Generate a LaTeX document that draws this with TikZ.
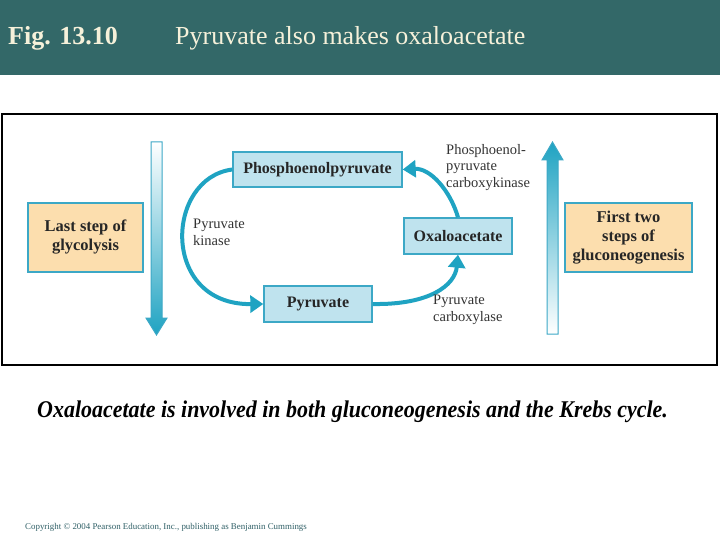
\documentclass[tikz,border=0pt]{standalone}
\usepackage{fontspec}
\setmainfont{Liberation Serif}
\usetikzlibrary{arrows.meta}
\definecolor{headbg}{HTML}{336868}
\definecolor{headtxt}{HTML}{F6F1DA}
\definecolor{boxfill}{HTML}{BFE3EE}
\definecolor{boxline}{HTML}{3CA8C6}
\definecolor{arcol}{HTML}{1FA3C2}
\definecolor{orfill}{HTML}{FCDEAE}
\definecolor{labtxt}{HTML}{333333}
\definecolor{copytxt}{HTML}{2F5F66}
\tikzset{
  molbox/.style={draw=boxline, fill=boxfill, line width=1.4pt, font=\fontsize{16}{18}\selectfont\bfseries, text=black!85, inner sep=0pt},
  stepbox/.style={draw=boxline, fill=orfill, line width=1.4pt, font=\fontsize{16.5}{19}\selectfont\bfseries, text=black!85, align=center, inner sep=0pt},
  enz/.style={font=\fontsize{14.5}{16.5}\selectfont, text=labtxt, align=left, anchor=north west, inner sep=0pt},
  arc/.style={draw=arcol, line width=4pt, -{Triangle[length=13pt,width=17pt]}},
}
\begin{document}
\begin{tikzpicture}[x=1pt,y=-1pt]
\useasboundingbox (0,0) rectangle (720,540);
% header
\fill[headbg] (0,0) rectangle (720,75);
\node[anchor=west, text=headtxt, font=\fontsize{26}{28}\selectfont\bfseries, inner sep=0pt] (fig) at (8,38) {Fig. 13.10};
\node[anchor=west, text=headtxt, font=\fontsize{26}{28}\selectfont, inner sep=0pt] (title) at (175,38) {Pyruvate also makes oxaloacetate};
% figure frame
\draw[line width=1.6pt, black] (2,114) rectangle (717,365);
% orange boxes
\node[stepbox, minimum width=115pt, minimum height=69pt] (last) at (85.5,237.5) {Last step of\\glycolysis};
\node[stepbox, minimum width=127pt, minimum height=69pt] (first) at (628.5,237.5) {First two\\steps of\\gluconeogenesis};
% gradient arrows
\path[draw=boxline, line width=1pt, top color=white, bottom color=arcol]
  (151,142) -- (162,142) -- (162,318) -- (167,318) -- (156.5,335) -- (146,318) -- (151,318) -- cycle;
\path[draw=boxline, line width=1pt, top color=arcol, bottom color=white]
  (547,334) -- (558,334) -- (558,160) -- (563,160) -- (552.5,142) -- (542,160) -- (547,160) -- cycle;
% molecule boxes
\node[molbox, minimum width=169pt, minimum height=35pt] (pep) at (317.5,169.5) {Phosphoenolpyruvate};
\node[molbox, minimum width=108pt, minimum height=36pt] (pyr) at (318,304) {Pyruvate};
\node[molbox, minimum width=108pt, minimum height=36pt] (oxa) at (458,236) {Oxaloacetate};
% arcs
\draw[arc] (pep.west) .. controls (165,178) and (160,305) .. (pyr.west);
\draw[arc] (pyr.east) .. controls (430,305) and (455,285) .. (oxa.south);
\draw[arc] (oxa.north) .. controls (450,190) and (430,168) .. (pep.east);
% enzyme labels
\node[enz] (pk) at (193,219) {Pyruvate\\kinase};
\node[enz] (pepck) at (446,144) {Phosphoenol-\\pyruvate\\carboxykinase};
\node[enz] (pc) at (433,295) {Pyruvate\\carboxylase};
% caption
\node[anchor=west, inner sep=0pt, font=\fontsize{24}{26}\selectfont\bfseries\itshape] (cap) at (37,412) {\scalebox{0.915}[1]{Oxaloacetate is involved in both gluconeogenesis and the Krebs cycle.}};
\node[anchor=west, inner sep=0pt, text=copytxt, font=\fontsize{8.9}{10}\selectfont] (copy) at (25,527) {Copyright \textcopyright{} 2004 Pearson Education, Inc., publishing as Benjamin Cummings};
\end{tikzpicture}
\end{document}
